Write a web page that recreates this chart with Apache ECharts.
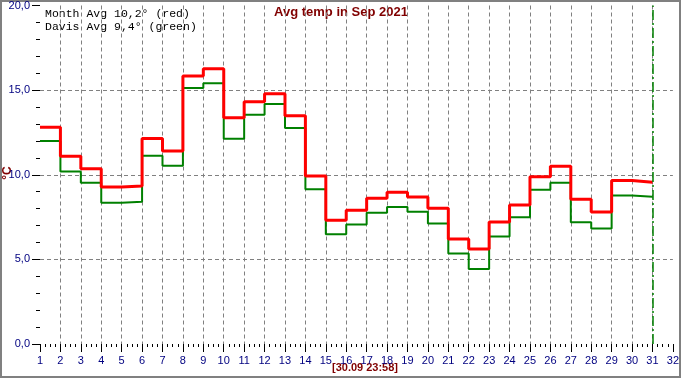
<!DOCTYPE html>
<html><head><meta charset="utf-8">
<script src="https://cdn.jsdelivr.net/npm/echarts@6/dist/echarts.min.js"></script>
<style>html,body{margin:0;padding:0;background:#fff}#c{width:682px;height:380px}</style>
</head><body><div id="c"></div>
<script>
const days = [1,2,3,4,5,6,7,8,9,10,11,12,13,14,15,16,17,18,19,20,21,22,23,24,25,26,27,28,29,30];
const monthTemps = [12.8,11.1,10.35,9.27,9.33,12.14,11.41,15.84,16.27,13.37,14.31,14.78,13.49,9.92,7.31,7.9,8.61,8.96,8.68,8.02,6.21,5.62,7.21,8.21,9.88,10.5,8.55,7.8,9.66,9.55];
const davisTemps = [12.0,10.19,9.53,8.35,8.41,11.12,10.53,15.12,15.41,12.12,13.55,14.18,12.76,9.14,6.49,7.06,7.76,8.1,7.82,7.12,5.35,4.43,6.35,7.49,9.12,9.53,7.19,6.82,8.78,8.7];
const titleText = 'Avg temp in Sep 2021';
const legendLines = ['Month Avg 10,2° (red)', 'Davis Avg 9,4° (green)'];
const timestampText = '[30.09 23:58]';
const unitText = '°C';
const endDay = 31;
const xMin = 1, xMax = 32;
const yMin = 0, yMax = 20, yStep = 5;

function stepData(vals) {
  const d = days.map((x, i) => [x, vals[i]]);
  d.push([days[days.length - 1] + 1, vals[vals.length - 1]]);
  return d;
}

const chart = echarts.init(document.getElementById('c'), null, {renderer: 'canvas'});
const gridStyle = {color: '#808080', type: [4, 3], width: 1};
chart.setOption({
  animation: false,
  backgroundColor: '#ffffff',
  grid: {left: 40, right: 5, top: 4, bottom: 36, containLabel: false},
  xAxis: {
    type: 'value', min: xMin, max: xMax, interval: 1,
    axisLine: {show: false},
    axisTick: {show: true, length: 8, lineStyle: {color: '#000', width: 1}},
    minorTick: {show: true, splitNumber: 4, length: 3, lineStyle: {color: '#000', width: 1}},
    axisLabel: {color: '#000080', fontSize: 11, fontFamily: 'Liberation Sans', margin: 11},
    splitLine: {show: true, showMinLine: false, showMaxLine: false, lineStyle: gridStyle}
  },
  yAxis: {
    type: 'value', min: yMin, max: yMax, interval: yStep,
    axisLine: {show: false},
    axisTick: {show: true, length: 8, lineStyle: {color: '#000', width: 1}},
    minorTick: {show: true, splitNumber: 5, length: 4, lineStyle: {color: '#000', width: 1}},
    axisLabel: {color: '#000080', fontSize: 11, fontFamily: 'Liberation Sans', margin: 10,
      formatter: v => v.toFixed(1).replace('.', ',')},
    splitLine: {show: true, showMinLine: false, showMaxLine: false, lineStyle: gridStyle}
  },
  series: [
    {
      type: 'line', step: 'end', data: stepData(davisTemps), symbol: 'none', z: 2,
      lineStyle: {color: '#008000', width: 2},
      markLine: {
        symbol: 'none', silent: true, label: {show: false},
        lineStyle: {color: '#008000', type: [10, 3, 2, 3], width: 1.5},
        data: [{xAxis: endDay}]
      }
    },
    {
      type: 'line', step: 'end', data: stepData(monthTemps), symbol: 'none', z: 3,
      lineStyle: {color: '#ff0000', width: 3}
    }
  ],
  graphic: [
    {type: 'rect', shape: {x: 1, y: 1, width: 679, height: 376}, style: {fill: 'none', stroke: '#808080', lineWidth: 2}, silent: true},
    {type: 'text', x: 341, y: 12, style: {text: titleText, align: 'center', verticalAlign: 'middle', font: 'bold 13px "Liberation Sans"', fill: '#800000'}},
    {type: 'text', x: 45, y: 13.5, style: {text: legendLines[0], align: 'left', verticalAlign: 'middle', font: '11.5px "Liberation Mono"', fill: '#000'}},
    {type: 'text', x: 45, y: 26.5, style: {text: legendLines[1], align: 'left', verticalAlign: 'middle', font: '11.5px "Liberation Mono"', fill: '#000'}},
    {type: 'text', x: 365, y: 368, style: {text: timestampText, align: 'center', verticalAlign: 'middle', font: 'bold 11px "Liberation Sans"', fill: '#800000'}},
    {type: 'text', x: 8, y: 173, rotation: Math.PI / 2, style: {text: unitText, align: 'center', verticalAlign: 'middle', font: 'bold 12px "Liberation Sans"', fill: '#800000'}}
  ]
});
</script>
</body></html>
